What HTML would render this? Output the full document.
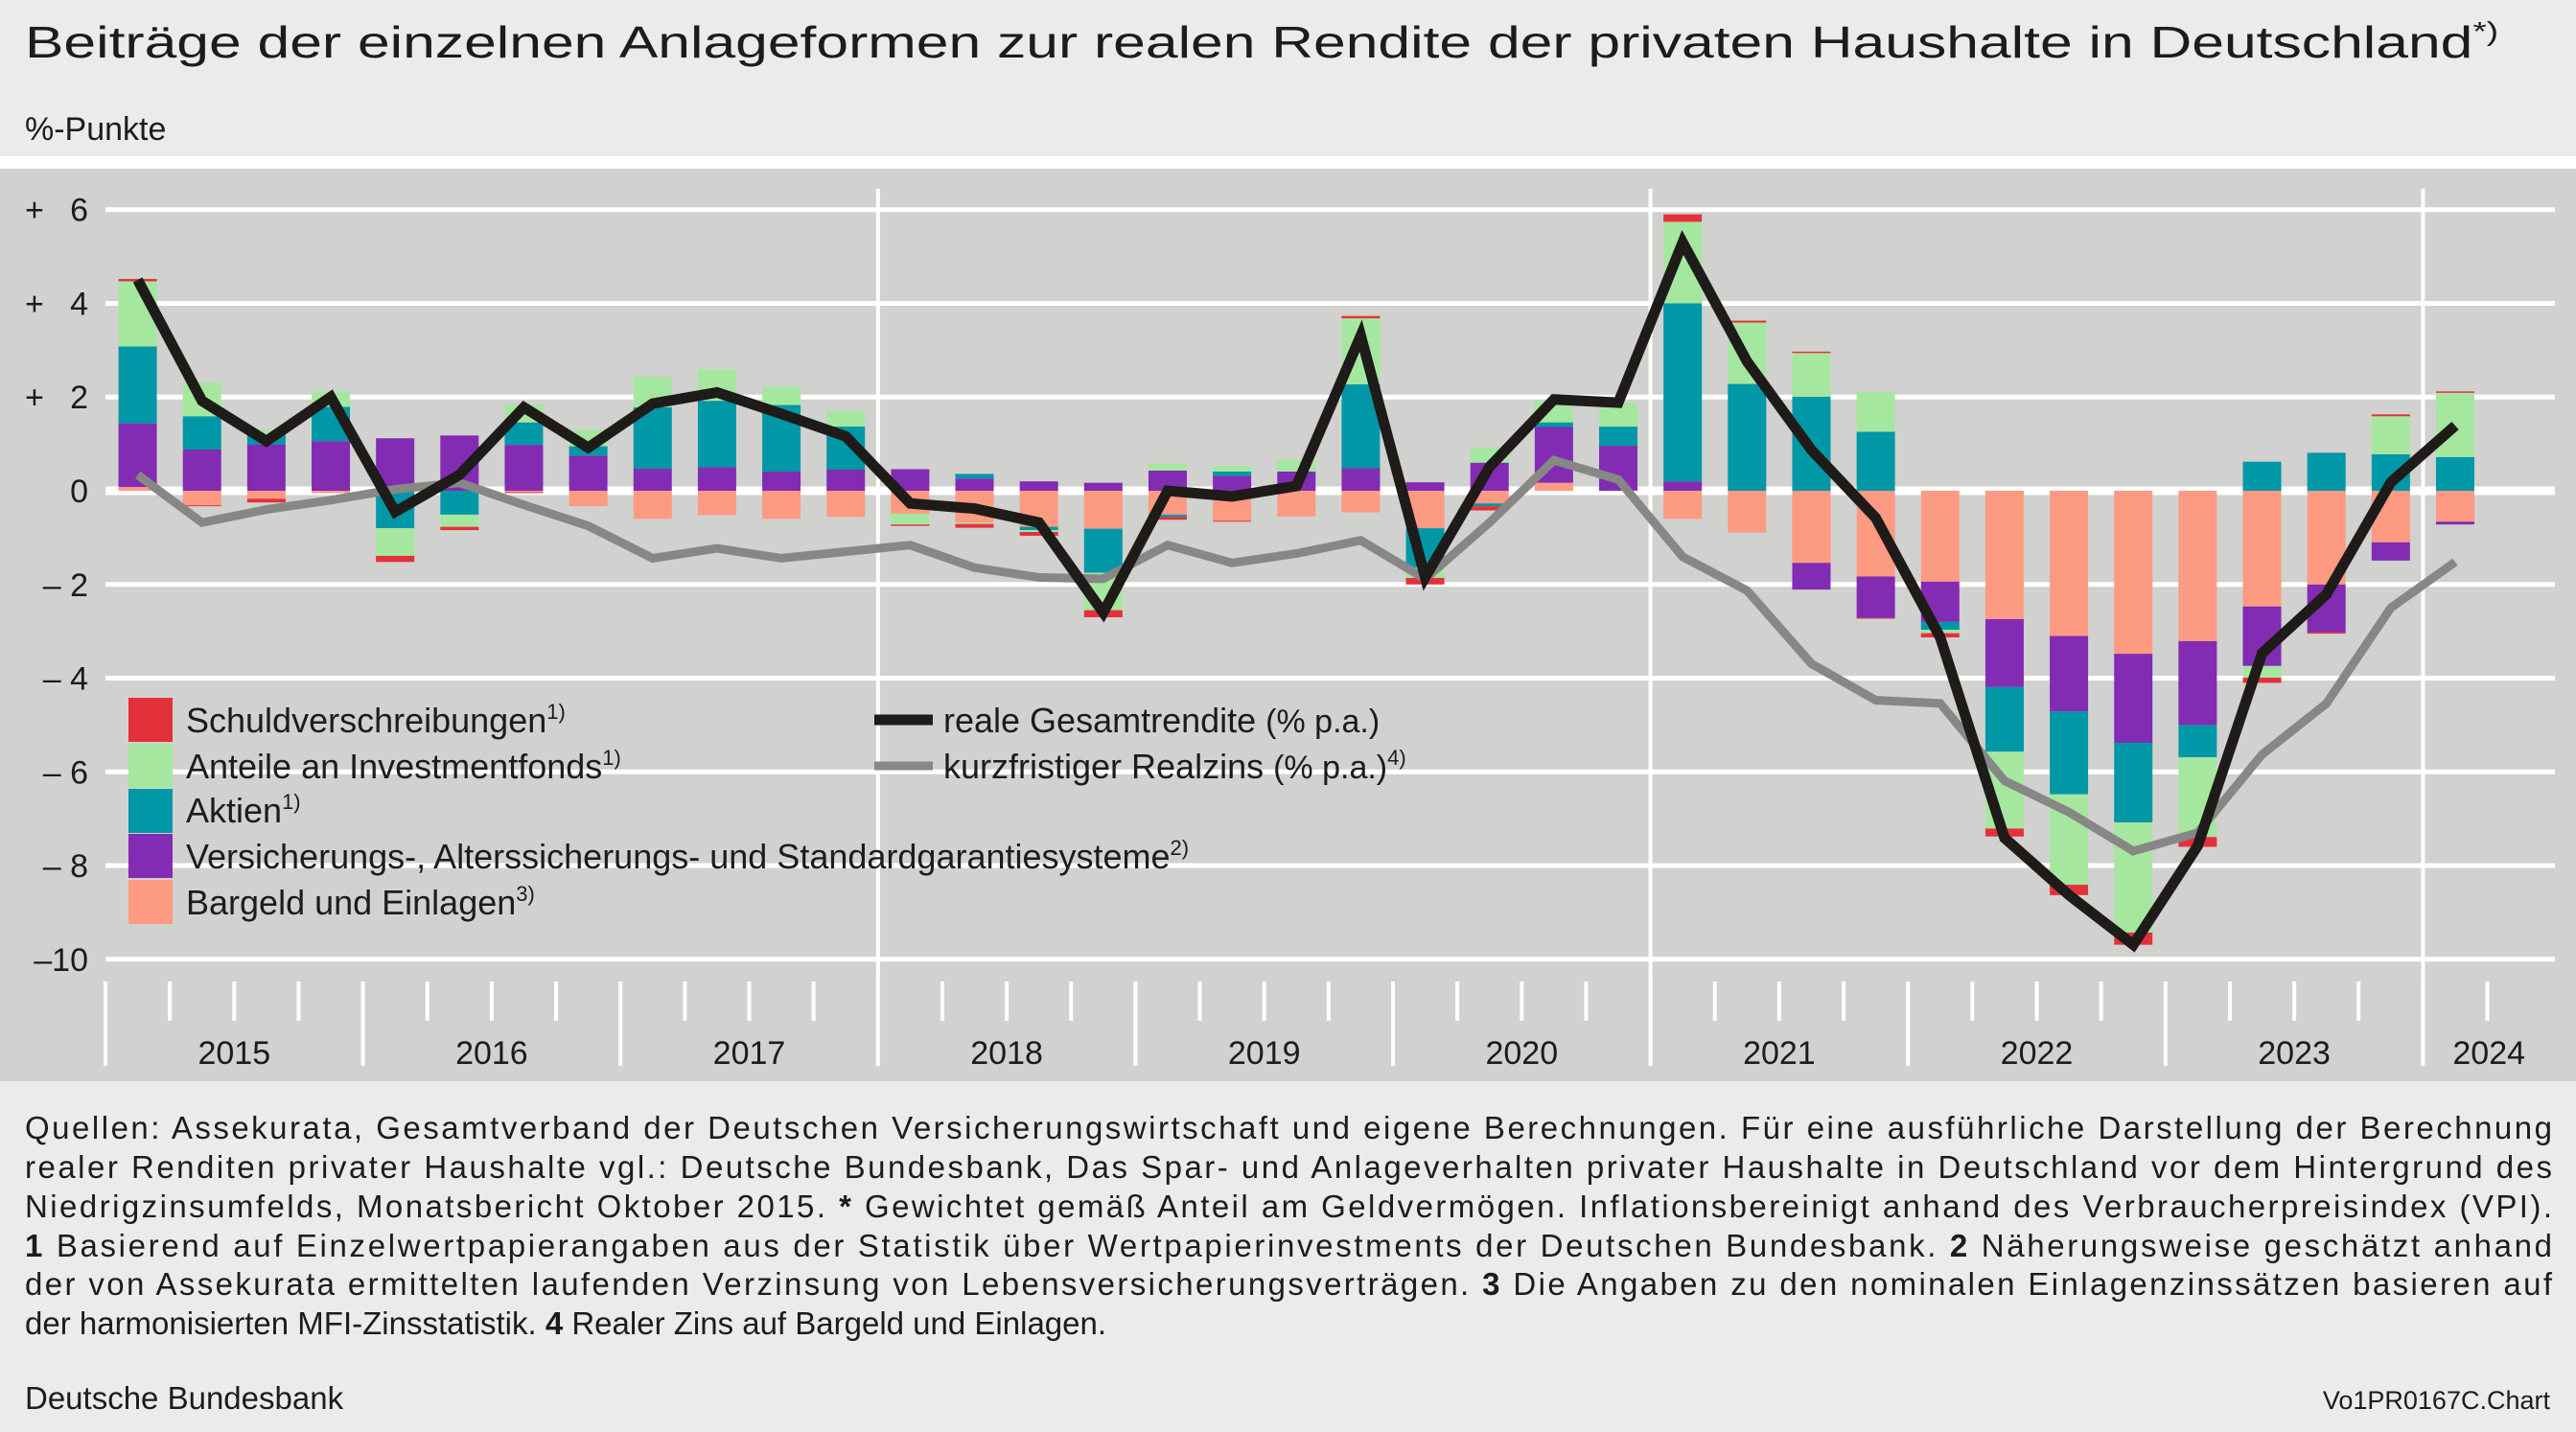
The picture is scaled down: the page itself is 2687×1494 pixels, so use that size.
<!DOCTYPE html>
<html><head><meta charset="utf-8"><style>
html,body{margin:0;padding:0;background:#ebebeb;}
svg{display:block;font-family:"Liberation Sans",sans-serif;}
</style></head><body>
<svg id="chart" width="2687" height="1494" viewBox="0 0 2687 1494" xmlns="http://www.w3.org/2000/svg">
<rect x="0" y="0" width="2687" height="1494" fill="#ebebeb"/>
<text x="26" y="60" font-size="46" fill="#1e1b19" textLength="2580" lengthAdjust="spacingAndGlyphs">Beiträge der einzelnen Anlageformen zur realen Rendite der privaten Haushalte in Deutschland<tspan font-size="28" dy="-18">*)</tspan></text>
<text x="26" y="146" font-size="34" fill="#1e1b19">%-Punkte</text>
<rect x="0" y="163" width="2687" height="13" fill="#ffffff"/>
<rect x="0" y="176" width="2687" height="952" fill="#d1d1cf"/>
<g id="grid"></g>
<g id="bars"></g>
<g id="lines"></g>
<g id="axes"></g>
<g font-size="36" fill="#1e1b19">
<rect x="134" y="728" width="46" height="46" fill="#e3313b"/>
<text x="194" y="764">Schuldverschreibungen<tspan font-size="22" dy="-14">1)</tspan></text>
<rect x="134" y="776" width="46" height="46" fill="#a6e7a0"/>
<text x="194" y="812">Anteile an Investmentfonds<tspan font-size="22" dy="-14">1)</tspan></text>
<rect x="134" y="823" width="46" height="46" fill="#0097a7"/>
<text x="194" y="858">Aktien<tspan font-size="22" dy="-14">1)</tspan></text>
<rect x="134" y="870" width="46" height="46" fill="#822bb3"/>
<text x="194" y="906">Versicherungs-, Alterssicherungs- und Standardgarantiesysteme<tspan font-size="22" dy="-14">2)</tspan></text>
<rect x="134" y="918" width="46" height="46" fill="#fd9a82"/>
<text x="194" y="954">Bargeld und Einlagen<tspan font-size="22" dy="-14">3)</tspan></text>
<line x1="912" y1="751" x2="973" y2="751" stroke="#1e1b19" stroke-width="11"/>
<text x="984" y="764">reale Gesamtrendite <tspan font-size="34">(% p.a.)</tspan></text>
<line x1="912" y1="799" x2="973" y2="799" stroke="#878786" stroke-width="9"/>
<text x="984" y="812">kurzfristiger Realzins <tspan font-size="34">(% p.a.)</tspan><tspan font-size="22" dy="-14">4)</tspan></text>
</g>
<g font-size="33" fill="#1e1b19">
<text x="26" y="1188" textLength="2636" lengthAdjust="spacing">Quellen: Assekurata, Gesamtverband der Deutschen Versicherungswirtschaft und eigene Berechnungen. Für eine ausführliche Darstellung der Berechnung</text>
<text x="26" y="1229" textLength="2636" lengthAdjust="spacing">realer Renditen privater Haushalte vgl.: Deutsche Bundesbank, Das Spar- und Anlageverhalten privater Haushalte in Deutschland vor dem Hintergrund des</text>
<text x="26" y="1270" textLength="2636" lengthAdjust="spacing">Niedrigzinsumfelds, Monatsbericht Oktober 2015. <tspan font-weight="bold">*</tspan> Gewichtet gemäß Anteil am Geldvermögen. Inflationsbereinigt anhand des Verbraucherpreisindex (VPI).</text>
<text x="26" y="1311" textLength="2636" lengthAdjust="spacing"><tspan font-weight="bold">1</tspan> Basierend auf Einzelwertpapierangaben aus der Statistik über Wertpapierinvestments der Deutschen Bundesbank. <tspan font-weight="bold">2</tspan> Näherungsweise geschätzt anhand</text>
<text x="26" y="1351" textLength="2636" lengthAdjust="spacing">der von Assekurata ermittelten laufenden Verzinsung von Lebensversicherungsverträgen. <tspan font-weight="bold">3</tspan> Die Angaben zu den nominalen Einlagenzinssätzen basieren auf</text>
<text x="26" y="1392">der harmonisierten MFI-Zinsstatistik. <tspan font-weight="bold">4</tspan> Realer Zins auf Bargeld und Einlagen.</text>
<text x="26" y="1470">Deutsche Bundesbank</text>
<text x="2660" y="1470" font-size="27" text-anchor="end">Vo1PR0167C.Chart</text>
</g>
</svg>
<script>
const quarters = ["15Q1","15Q2","15Q3","15Q4","16Q1","16Q2","16Q3","16Q4","17Q1","17Q2","17Q3","17Q4","18Q1","18Q2","18Q3","18Q4","19Q1","19Q2","19Q3","19Q4","20Q1","20Q2","20Q3","20Q4","21Q1","21Q2","21Q3","21Q4","22Q1","22Q2","22Q3","22Q4","23Q1","23Q2","23Q3","23Q4","24Q1"];
const bargeld = [0.08,-0.31,-0.17,-0.05,0,0,-0.03,-0.33,-0.6,-0.52,-0.6,-0.56,-0.49,-0.68,-0.77,-0.81,-0.51,-0.64,-0.55,-0.46,-0.8,-0.27,0.17,0,-0.6,-0.89,-1.54,-1.83,-1.94,-2.74,-3.1,-3.48,-3.21,-2.47,-2.0,-1.1,-0.66];
const versicherung = [1.36,0.88,0.99,1.06,1.12,1.18,0.98,0.75,0.47,0.5,0.41,0.45,0.46,0.26,0.2,0.17,0.43,0.32,0.41,0.48,0.18,0.6,1.19,0.96,0.2,0,-0.57,-0.88,-0.86,-1.45,-1.61,-1.9,-1.79,-1.27,-1.02,-0.39,-0.06];
const aktien = [1.64,0.71,0.21,0.73,-0.8,-0.51,0.48,0.2,1.31,1.42,1.42,0.92,0,0.1,-0.07,-0.94,-0.05,0.09,0,1.79,-0.84,-0.06,0.1,0.41,3.8,2.28,2.01,1.26,-0.17,-1.38,-1.77,-1.7,-0.69,0.62,0.81,0.78,0.72];
const fonds = [1.39,0.72,0.11,0.33,-0.59,-0.26,0.39,0.35,0.65,0.67,0.4,0.34,-0.23,-0.03,-0.04,-0.8,0.15,0.12,0.25,1.41,-0.22,0.32,0.46,0.51,1.74,1.31,0.93,0.85,-0.07,-1.64,-1.93,-2.35,-1.7,-0.25,0,0.81,1.37];
const schuld = [0.05,-0.02,-0.08,0,-0.13,-0.07,-0.02,0,0,0,0,0,-0.03,-0.08,-0.08,-0.15,-0.06,-0.02,0,0.05,-0.14,-0.09,0,0,0.16,0.04,0.03,-0.02,-0.09,-0.17,-0.22,-0.26,-0.21,-0.11,-0.03,0.04,0.03];
const gesamtrendite = [4.5,1.92,1.06,2.0,-0.45,0.34,1.78,0.92,1.86,2.1,1.64,1.16,-0.27,-0.38,-0.68,-2.6,0.0,-0.12,0.1,3.31,-1.85,0.51,1.95,1.88,5.3,2.76,0.87,-0.58,-3.13,-7.41,-8.63,-9.69,-7.58,-3.47,-2.21,0.18,1.39];
const realzins = [0.34,-0.68,-0.4,-0.2,0.03,0.17,-0.3,-0.75,-1.44,-1.23,-1.44,-1.3,-1.16,-1.64,-1.85,-1.88,-1.16,-1.54,-1.34,-1.06,-1.88,-0.68,0.65,0.24,-1.41,-2.13,-3.69,-4.47,-4.54,-6.19,-6.86,-7.69,-7.3,-5.63,-4.54,-2.5,-1.52];
const yTicks = [6,4,2,0,-2,-4,-6,-8,-10];
const yTickLabels = ["+ 6","+ 4","+ 2","0","– 2","– 4","– 6","– 8","–10"];
const years = ["2015","2016","2017","2018","2019","2020","2021","2022","2023","2024"];

const NS = "http://www.w3.org/2000/svg";
const X0 = 110, STEP = 67.15, Y0 = 512, UNIT = 48.88;
function xPos(i){ return X0 + STEP*(i+0.5); }
function yPos(v){ return Y0 - v*UNIT; }
function mk(tag, attrs, parent){ const e=document.createElementNS(NS,tag); for(const k in attrs) e.setAttribute(k,attrs[k]); parent.appendChild(e); return e; }

const grid=document.getElementById('grid'), bars=document.getElementById('bars'), lines=document.getElementById('lines'), axes=document.getElementById('axes');

yTicks.forEach((v,i)=>{
  const l=mk('line',{x1:110,x2:2665,y1:yPos(v),y2:yPos(v),stroke:'#ffffff','stroke-width':v===0?9:5},grid);
  
  
  const lab=yTickLabels[i];
  if(lab.startsWith('+')){
    const p=mk('text',{x:26,y:yPos(v)+12,'font-size':34,fill:'#1e1b19'},axes); p.textContent='+';
    
    
    const t=mk('text',{x:92,y:yPos(v)+12,'font-size':34,fill:'#1e1b19','text-anchor':'end'},axes); t.textContent=String(v);
    
    
  } else {
    const t=mk('text',{x:92,y:yPos(v)+12,'font-size':34,fill:'#1e1b19','text-anchor':'end'},axes); t.textContent=lab;
    
    
  }
});
// year separators
[3,6,9].forEach(k=>{
  const x=X0+STEP*4*k - (k===9?0:0);
  const l=mk('line',{x1:x,x2:x,y1:197,y2:1112,stroke:'#ffffff','stroke-width':4},grid);
  
  
});
// ticks
for(let k=0;k<=quarters.length;k++){
  const x=X0+STEP*k; const major=(k%4===0);
  const l=mk('line',{x1:x,x2:x,y1:1024,y2:major?1112:1065,stroke:'#ffffff','stroke-width':4},axes);
  
  
}
years.forEach((y,i)=>{
  const start=X0+STEP*4*i; const end=Math.min(start+STEP*4, 2665);
  const t=mk('text',{x:(start+end)/2,y:1110,'font-size':34,fill:'#1e1b19','text-anchor':'middle'},axes); t.textContent=y;
  
  
});
// bars
const series=[[bargeld,'#fd9a82','bargeld'],[versicherung,'#822bb3','versicherung'],[aktien,'#0097a7','aktien'],[fonds,'#a6e7a0','fonds'],[schuld,'#e3313b','schuld']];
const BW=40;
quarters.forEach((q,i)=>{
  let pos=0, neg=0;
  series.forEach(([arr,col,name])=>{
    const v=arr[i]; if(!v) return;
    let a,b;
    if(v>0){a=pos;b=pos+v;pos=b;} else {a=neg;b=neg+v;neg=b;}
    const r=mk('rect',{x:xPos(i)-BW/2,y:yPos(Math.max(a,b)),width:BW,height:Math.abs(b-a)*UNIT,fill:col},bars);
    
    
  });
});
function poly(arr,col,w,name){
  const pts=arr.map((v,i)=>xPos(i).toFixed(1)+','+yPos(v).toFixed(1)).join(' ');
  const p=mk('polyline',{points:pts,fill:'none',stroke:col,'stroke-width':w,'stroke-linejoin':'miter'},lines);
  
  
}
poly(realzins,'#878786',9,'line-realzins');
poly(gesamtrendite,'#1e1b19',11,'line-gesamtrendite');
</script>
</body></html>
